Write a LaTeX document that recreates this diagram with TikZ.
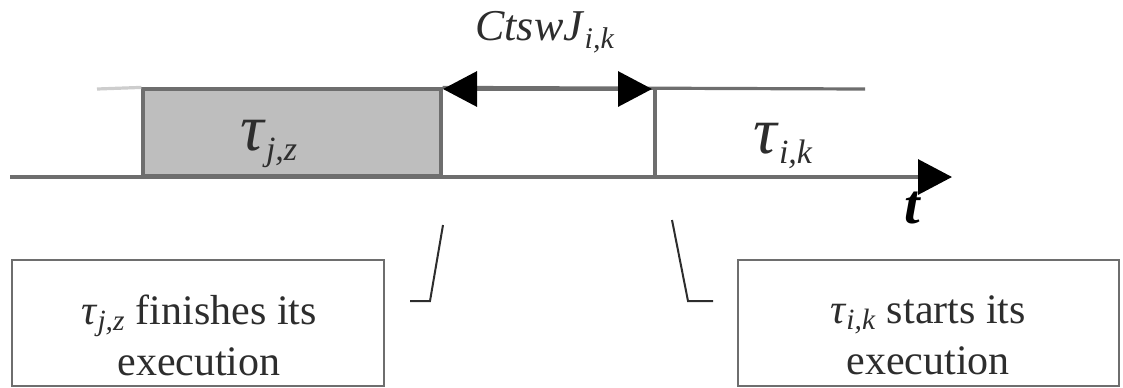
\documentclass[tikz,border=0pt]{standalone}
\usepackage{fontspec}
\setmainfont{Liberation Serif}
\usetikzlibrary{arrows.meta}

\definecolor{axisgray}{RGB}{110,110,110}
\definecolor{fadegray}{RGB}{205,205,205}
\definecolor{busygray}{RGB}{190,190,190}
\definecolor{inkgray}{RGB}{45,45,45}

% tau with an italic subscript, in running text
\newcommand{\tauidx}[1]{\textit{τ}\textsubscript{\textit{#1}}}
% large tau on the time line
\newcommand{\jobtau}[1]{{\fontsize{33}{34}\selectfont\textit{τ}}\raisebox{-5pt}{\fontsize{17}{18}\selectfont\textit{#1}}}

\tikzset{
  timeline/.style={draw=axisgray, line width=1.6pt},
  callline/.style={draw=inkgray, line width=1pt},
  lbl/.style={anchor=base west, inner sep=0pt, text=inkgray},
  boxtext/.style={align=center, text=inkgray, font=\fontsize{21}{25.5}\selectfont},
}

\begin{document}
\begin{tikzpicture}[x=0.5pt, y=-0.5pt]
  \useasboundingbox (0,0) rectangle (1123,387);

  % busy interval of the first job
  \node[timeline, fill=busygray, minimum width=149pt, minimum height=43.5pt, inner sep=0pt] (jz) at (292,132.5) {};
  \node[lbl] (jzl) at (240,150) {\jobtau{j,z}};

  % upper line and the switch interval
  \draw[draw=fadegray, line width=1.6pt] (97,89) -- (jz.north west);
  \draw[timeline] (jz.north east) -- (865,89);
  \coordinate (fin) at (443,89);
  \coordinate (st) at (652,89);
  \coordinate (stlow) at (655,177);
  \draw[timeline] (655,89) -- (stlow);
  \draw[timeline, {Triangle[length=17pt, width=17.5pt, color=black]}-{Triangle[length=17pt, width=17.5pt, color=black]}] (fin) -- (st);
  \node[lbl, font=\fontsize{22}{24}\selectfont] (sw) at (475,40) {\textit{CtswJ}\raisebox{-4pt}{\fontsize{15}{16}\selectfont\textit{i,k}}};
  \node[lbl] (ikl) at (753,153) {\jobtau{i,k}};

  % time axis
  \node[text=black, font=\fontsize{28}{30}\selectfont\bfseries\itshape] (t) at (912,208) {t};
  \coordinate (o) at (10,177);
  \coordinate (tend) at (952,177);
  \draw[timeline, -{Triangle[length=17pt, width=17.5pt, color=black]}] (o) -- (tend);

  % callouts
  \draw[timeline, line width=1.4pt] (12,260) rectangle (384,386);
  \node[boxtext] (finbox) at (199,335) {\tauidx{j,z} finishes its\\execution};
  \coordinate (finA) at (443,225);
  \coordinate (finB) at (430,301);
  \coordinate (finC) at (410,301);
  \draw[callline] (finA) -- (finB) -- (finC);

  \draw[timeline, line width=1.4pt] (738,260) rectangle (1119,386);
  \node[boxtext] (stbox) at (928,335) {\tauidx{i,k} starts its\\execution};
  \coordinate (stA) at (672,220);
  \coordinate (stB) at (688,301);
  \coordinate (stC) at (713,301);
  \draw[callline] (stA) -- (stB) -- (stC);
\end{tikzpicture}
\end{document}
